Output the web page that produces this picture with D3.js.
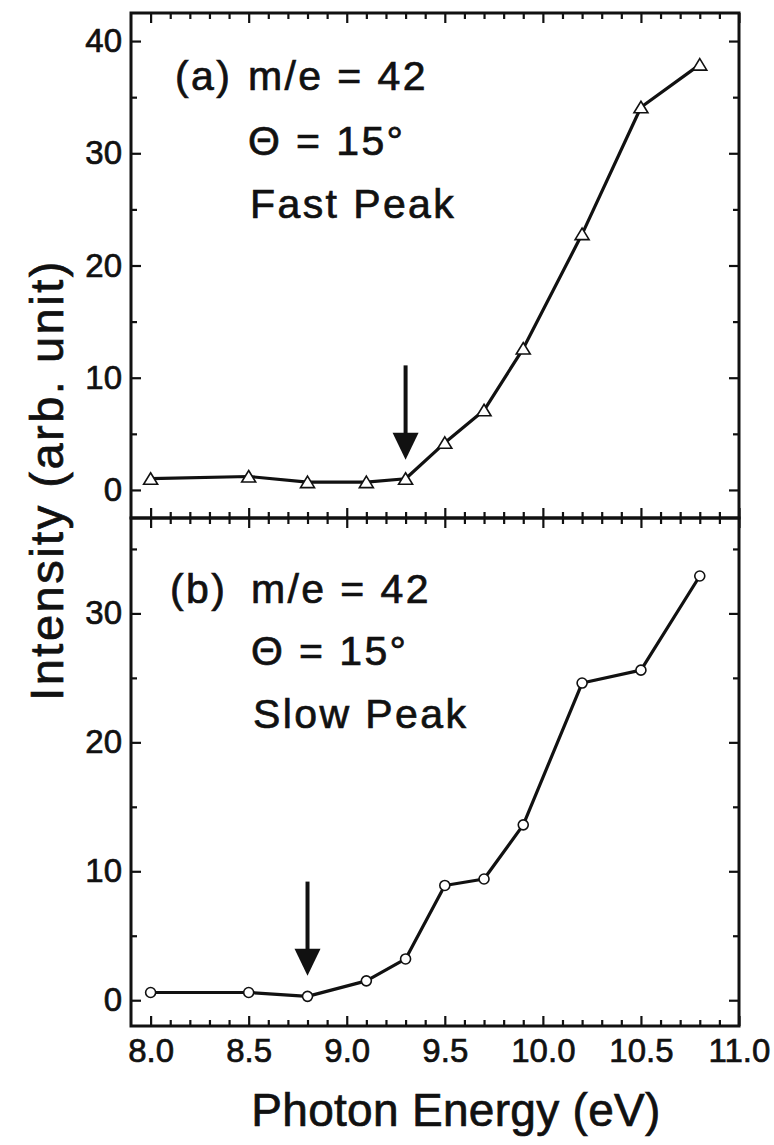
<!DOCTYPE html>
<html>
<head>
<meta charset="utf-8">
<script src="https://cdn.jsdelivr.net/npm/d3@7/dist/d3.min.js"></script>
<style>
  html, body { margin: 0; padding: 0; background: #fff; }
  svg { display: block; }
  text { font-family: "Liberation Sans", Arial, Helvetica, sans-serif; fill: #111; stroke: #111; stroke-width: 0.7px; }
</style>
</head>
<body>
<svg id="chart" width="774" height="1145"></svg>
<script>
// Photon energies (eV) at which both peaks were measured
const energy = [8.0, 8.5, 8.8, 9.1, 9.3, 9.5, 9.7, 9.9, 10.2, 10.5, 10.8];
// (a) fast peak intensity, m/e = 42, Θ = 15°
const fastPeak = [1.0, 1.2, 0.7, 0.7, 1.0, 4.2, 7.1, 12.6, 22.8, 34.1, 37.9];
// (b) slow peak intensity, m/e = 42, Θ = 15°
const slowPeak = [0.6, 0.6, 0.3, 1.5, 3.2, 8.9, 9.4, 13.6, 24.6, 25.6, 32.9];

// Axis ticks
const xMajorTicks = [8.0, 8.5, 9.0, 9.5, 10.0, 10.5, 11.0];
const xMinorTicks = d3.range(80, 111).map(v => v / 10).filter(v => Math.round(v * 10) % 5 !== 0);
const yMajorTicksA = [0, 10, 20, 30, 40];
const yMinorTicksA = [5, 15, 25, 35];
const yMajorTicksB = [0, 10, 20, 30];
const yMinorTicksB = [5, 15, 25, 35];

// Threshold arrows: energy, shaft top and tip (intensity units)
const arrowEnergy = [9.3, 8.8];
const arrowTop = [11.1, 9.2];
const arrowTip = [2.7, 1.9];

// Panel annotation lines
const labelA = ["(a)", "m/e = 42", "Θ = 15°", "Fast Peak"];
const labelB = ["(b)", "m/e = 42", "Θ = 15°", "Slow Peak"];

const svg = d3.select("#chart");

const left = 131, right = 739;
const topA = 13, mid = 518, bottomB = 1026;

const x = d3.scaleLinear().domain([7.9, 11.0]).range([left, right]);
const yA = d3.scaleLinear().domain([-2.5, 42.5]).range([mid, topA]);
const yB = d3.scaleLinear().domain([-2.0, 37.4]).range([bottomB, mid]);

const MAJOR = 10, MINOR = 6;

function strip(g) {
  g.select(".domain").remove();
  g.selectAll(".tick line").attr("stroke", "#111").attr("stroke-width", 2.2);
}

function drawPanel(y, majorY, minorY, series, marker, arrowIdx, labels, labelX, baselines, showXLabels) {
  const yTop = y.range()[1], yBot = y.range()[0];

  // left axis (inward ticks, labelled)
  svg.append("g").attr("transform", `translate(${left},0)`)
    .call(d3.axisLeft(y).tickValues(majorY).tickSize(-MAJOR).tickPadding(9).tickFormat(d3.format("d")))
    .call(strip)
    .call(g => g.selectAll("text").attr("font-size", 33).style("fill", "#111"));
  svg.append("g").attr("transform", `translate(${left},0)`)
    .call(d3.axisLeft(y).tickValues(minorY).tickSize(-MINOR).tickFormat(""))
    .call(strip);

  // right axis (mirror ticks)
  svg.append("g").attr("transform", `translate(${right},0)`)
    .call(d3.axisRight(y).tickValues(majorY).tickSize(-MAJOR).tickFormat(""))
    .call(strip);
  svg.append("g").attr("transform", `translate(${right},0)`)
    .call(d3.axisRight(y).tickValues(minorY).tickSize(-MINOR).tickFormat(""))
    .call(strip);

  // top edge ticks pointing down
  svg.append("g").attr("transform", `translate(0,${yTop})`)
    .call(d3.axisTop(x).tickValues(xMajorTicks).tickSize(-MAJOR).tickFormat(""))
    .call(strip);
  svg.append("g").attr("transform", `translate(0,${yTop})`)
    .call(d3.axisTop(x).tickValues(xMinorTicks).tickSize(-MINOR).tickFormat(""))
    .call(strip);

  // bottom edge ticks pointing up
  const bx = svg.append("g").attr("transform", `translate(0,${yBot})`)
    .call(d3.axisBottom(x).tickValues(xMajorTicks).tickSize(-MAJOR).tickPadding(13)
      .tickFormat(showXLabels ? d3.format(".1f") : ""))
    .call(strip);
  bx.selectAll("text").attr("font-size", 33).style("fill", "#111");
  svg.append("g").attr("transform", `translate(0,${yBot})`)
    .call(d3.axisBottom(x).tickValues(xMinorTicks).tickSize(-MINOR).tickFormat(""))
    .call(strip);

  // frame
  svg.append("rect")
    .attr("x", left).attr("y", yTop)
    .attr("width", right - left).attr("height", yBot - yTop)
    .attr("fill", "none").attr("stroke", "#111").attr("stroke-width", 3);

  // data line
  const pts = energy.map((e, i) => [e, series[i]]);
  svg.append("path")
    .datum(pts)
    .attr("fill", "none").attr("stroke", "#111").attr("stroke-width", 3.2)
    .attr("stroke-linejoin", "round")
    .attr("d", d3.line().x(d => x(d[0])).y(d => y(d[1])));

  // markers
  if (marker === "triangle") {
    svg.append("g").selectAll("path").data(pts).join("path")
      .attr("transform", d => `translate(${x(d[0])},${y(d[1])})`)
      .attr("d", "M0,-6 L7,5.5 L-7,5.5 Z")
      .attr("fill", "#fff").attr("stroke", "#111").attr("stroke-width", 1.6);
  } else {
    svg.append("g").selectAll("circle").data(pts).join("circle")
      .attr("cx", d => x(d[0])).attr("cy", d => y(d[1])).attr("r", 5)
      .attr("fill", "#fff").attr("stroke", "#111").attr("stroke-width", 1.6);
  }

  // threshold arrow
  const ax = x(arrowEnergy[arrowIdx]);
  const aTop = y(arrowTop[arrowIdx]);
  const aTip = y(arrowTip[arrowIdx]);
  const headH = 27, headW = 13;
  svg.append("line")
    .attr("x1", ax).attr("x2", ax).attr("y1", aTop).attr("y2", aTip - headH + 2)
    .attr("stroke", "#111").attr("stroke-width", 4);
  svg.append("path")
    .attr("d", `M${ax - headW},${aTip - headH} L${ax + headW},${aTip - headH} L${ax},${aTip} Z`)
    .attr("fill", "#111");

  // annotation block
  const t = svg.append("g").attr("font-size", 41).style("letter-spacing", "2.4px");
  t.append("text").attr("x", labelX[0]).attr("y", baselines[0]).text(labels[0]);
  t.append("text").attr("x", labelX[1]).attr("y", baselines[0]).text(labels[1]);
  t.append("text").attr("x", labelX[1]).attr("y", baselines[1]).text(labels[2]);
  t.append("text").attr("x", labelX[1] + 2).attr("y", baselines[2]).text(labels[3]);
}

drawPanel(yA, yMajorTicksA, yMinorTicksA, fastPeak, "triangle", 0, labelA, [175, 248], [90, 155, 218], false);
drawPanel(yB, yMajorTicksB, yMinorTicksB, slowPeak, "circle", 1, labelB, [170, 251], [603, 665, 728], true);

// axis titles
svg.append("text")
  .attr("transform", "translate(63,480) rotate(-90)")
  .attr("text-anchor", "middle")
  .attr("font-size", 47)
  .style("letter-spacing", "2.5px")
  .text("Intensity (arb. unit)");

svg.append("text")
  .attr("x", 456).attr("y", 1126)
  .attr("text-anchor", "middle")
  .attr("font-size", 46)
  .style("letter-spacing", "0.3px")
  .text("Photon Energy (eV)");
</script>
</body>
</html>
